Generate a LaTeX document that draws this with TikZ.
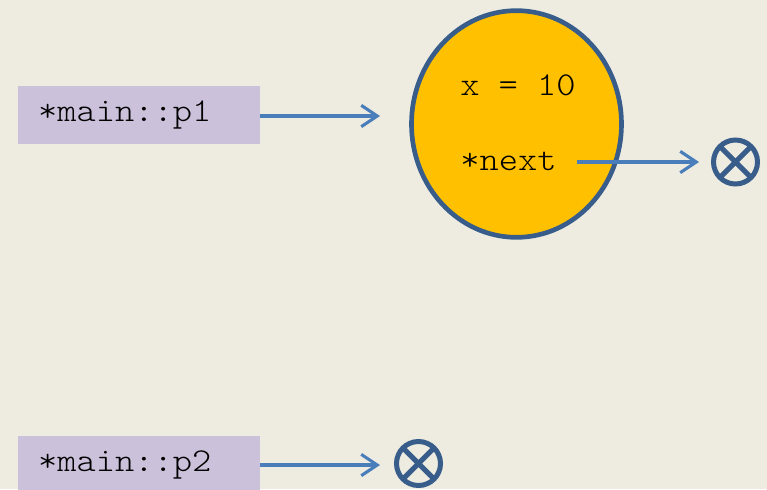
\documentclass[tikz,border=0pt]{standalone}
\usepackage{fontspec}
\usepackage{tikz}
\usetikzlibrary{arrows.meta,shapes.geometric,positioning}

\newfontfamily\codefont{lmmonolt10-regular.otf}[FakeStretch=1.1]
\newcommand{\codetext}{\codefont\fontsize{25}{28}\selectfont}

\definecolor{slidebg}{HTML}{EEECE1}
\definecolor{ptrfill}{HTML}{CCC1DA}
\definecolor{objfill}{HTML}{FFC000}
\definecolor{nodeline}{HTML}{385D8A}
\definecolor{arrowblue}{HTML}{4A7EBB}

\begin{document}
\begin{tikzpicture}[x=0.75pt,y=-0.75pt,
				ptrbox/.style={rectangle,fill=ptrfill,minimum width=181.5pt,minimum height=43.5pt,
					inner xsep=15pt,text width=151.5pt,align=left,font=\codetext},
				objnode/.style={ellipse,draw=nodeline,fill=objfill,line width=3.5pt,
					minimum width=157.5pt,minimum height=170pt},
				fieldtxt/.style={inner sep=0pt,font=\codetext},
				nullnode/.style={circle,draw=nodeline,line width=3.75pt,minimum size=33pt,inner sep=0pt,
					path picture={\draw[nodeline,line width=3.75pt]
						(path picture bounding box.north west) -- (path picture bounding box.south east)
						(path picture bounding box.north east) -- (path picture bounding box.south west);}},
				ptrarrow/.style={draw=arrowblue,line width=2.3pt,-{Straight Barb[length=12pt,width=16pt]}}
				]
				\fill[slidebg] (0,0) rectangle (767,489);
				\useasboundingbox (0,0) rectangle (767,489);

				% pointer p1 and the list node it points to
				\node (p1) [ptrbox] at (139,115) {*main::p1};
				\node (obj) [objnode] at (516.5,124) {};
				\node (xval) [fieldtxt,anchor=base west] at (460,95) {x = 10};
				\node (nextf) [fieldtxt,anchor=base west] at (460,170) {*next};
				\node (nullA) [nullnode] at (735.5,162) {};
				\coordinate (p1end) at (380,116);
				\coordinate (nextout) at (577,162);
				\draw[ptrarrow] (p1.east |- p1end) -- (p1end);
				\draw[ptrarrow,shorten >=9pt] (nextout) -- (nullA);

				% pointer p2, still null
				\node (p2) [ptrbox] at (139,465) {*main::p2};
				\node (nullB) [nullnode] at (418.5,463.5) {};
				\coordinate (p2end) at (380,465);
				\draw[ptrarrow] (p2) -- (p2end);
\end{tikzpicture}
\end{document}
